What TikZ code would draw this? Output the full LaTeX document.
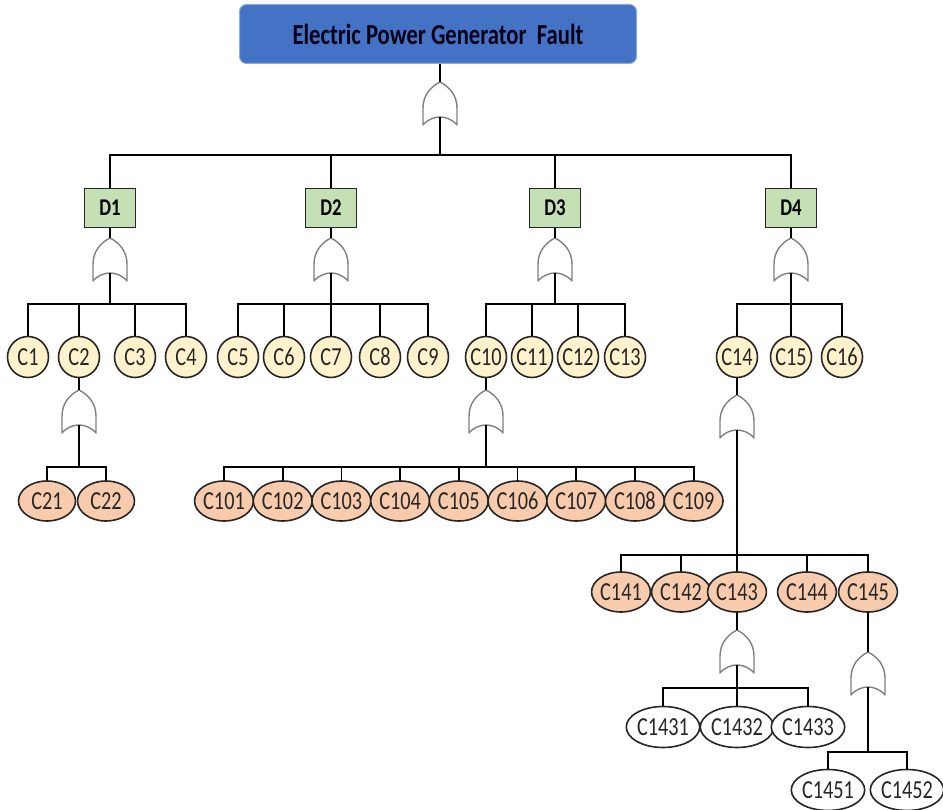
\documentclass[tikz,border=0pt]{standalone}
\usepackage{fontspec}
\setmainfont{Carlito}[FakeStretch=0.78]
\usetikzlibrary{shapes.geometric,calc}

\definecolor{TopBlue}{HTML}{4472C4}
\definecolor{TopEdge}{HTML}{8FAADC}
\definecolor{DGreen}{HTML}{C5E0B4}
\definecolor{CYellow}{HTML}{FFF2CC}
\definecolor{COrange}{HTML}{F8CBAD}
\definecolor{GateGrey}{HTML}{7F7F7F}
\definecolor{InkDark}{HTML}{262626}

\begin{document}
\begin{tikzpicture}[
        %Environment config
        x=1pt, y=-1pt,
        line width=1.8pt,
        %Environment styles
        TopCfg/.style={
            rectangle, rounded corners=7pt,
            fill=TopBlue, draw=TopEdge, line width=1pt,
            minimum width=397pt, minimum height=59pt,
            font=\bfseries\fontsize{29}{32}\selectfont, text=black!90!blue
        },
        DCfg/.style={
            rectangle, fill=DGreen, draw=InkDark, line width=1.3pt,
            minimum width=51pt, minimum height=39pt,
            font=\bfseries\fontsize{24}{26}\selectfont
        },
        BasicCfg/.style={
            circle, fill=CYellow, draw=InkDark, inner sep=0pt, line width=1.6pt,
            minimum size=41pt, text=InkDark,
            font=\fontsize{26}{28}\selectfont
        },
        SubCfg/.style={
            ellipse, fill=COrange, draw=InkDark, inner sep=0pt, line width=1.6pt,
            minimum width=57pt, minimum height=40pt, text=InkDark,
            font=\fontsize{26}{28}\selectfont
        },
        LeafCfg/.style={
            SubCfg, fill=white, minimum width=69pt, minimum height=41pt
        },
        GateLine/.style={draw=GateGrey, line width=1.4pt, line join=round},
        OrGate/.pic={
            \draw[GateLine] (0,0) .. controls (10,5) and (17,14) .. (17,26) -- (17,43)
                .. controls (12,37) and (5,35) .. (0,35)
                .. controls (-5,35) and (-12,37) .. (-17,43) -- (-17,26)
                .. controls (-17,14) and (-10,5) .. cycle;
            \coordinate (-tip) at (0,0);
            \coordinate (-in) at (0,35);
        }
    ]
    \useasboundingbox (0,0) rectangle (943,810);

    % top event
    \node[TopCfg] (top) at (438,34) {Electric Power Generator\ \ Fault};
    \pic (g0) at (440,82) {OrGate};
    \draw (g0-tip |- top.south) -- (g0-tip);
    \draw (g0-in) -- ++(0,38) coordinate (bus0);

    % D level
    \foreach \n/\x in {1/110,2/331,3/555,4/791}{
        \node[DCfg] (D\n) at (\x,208) {D\n};
        \pic (gD\n) at (\x,238) {OrGate};
        \draw (D\n.north) |- (bus0);
        \draw (D\n.south) -- (gD\n-tip);
        \draw (gD\n-in) -- ++(0,31) coordinate (busD\n);
    }

    % C level
    \foreach \n/\x/\d in {1/28/1,2/79/1,3/135/1,4/186/1,
            5/238/2,6/284/2,7/331/2,8/380/2,9/428/2,
            10/486/3,11/532/3,12/578/3,13/625/3,
            14/737/4,15/791/4,16/842/4}{
        \node[BasicCfg] (C\n) at (\x,357) {C\n};
        \draw (C\n.north) |- (busD\d);
    }

    % under C2
    \pic (gC2) at (79,390) {OrGate};
    \draw (C2.south) -- (gC2-tip);
    \draw (gC2-in) -- ++(0,42) coordinate (busC2);
    \foreach \n/\x in {21/47,22/106}{
        \node[SubCfg] (C\n) at (\x,501) {C\n};
        \draw (C\n.north) |- (busC2);
    }

    % under C10
    \pic (gC10) at (486,390) {OrGate};
    \draw (C10.south) -- (gC10-tip);
    \draw (gC10-in) -- ++(0,42) coordinate (busC10);
    \foreach \n [count=\i from 0] in {101,...,109}{
        \node[SubCfg] (C\n) at ({224+58.7*\i},501) {C\n};
        \draw (C\n.north) |- (busC10);
    }

    % under C14
    \pic (gC14) at (737,395) {OrGate};
    \draw (C14.south) -- (gC14-tip);
    \draw (gC14-in) -- ++(0,125) coordinate (busC14);
    \foreach \n/\x in {141/621,142/681,143/737,144/807,145/868}{
        \node[SubCfg] (C\n) at (\x,592) {C\n};
        \draw (C\n.north) |- (busC14);
    }

    % under C143
    \pic (gC143) at (737,630) {OrGate};
    \draw (C143.south) -- (gC143-tip);
    \draw (gC143-in) -- ++(0,23) coordinate (busC143);
    \foreach \n/\x in {1431/663,1432/737,1433/808}{
        \node[LeafCfg] (C\n) at (\x,727) {C\n};
        \draw (C\n.north) |- (busC143);
    }

    % under C145
    \pic (gC145) at (868,652) {OrGate};
    \draw (C145.south) -- (gC145-tip);
    \draw (gC145-in) -- ++(0,65) coordinate (busC145);
    \foreach \n/\x in {1451/828,1452/907}{
        \node[LeafCfg] (C\n) at (\x,790) {C\n};
        \draw (C\n.north) |- (busC145);
    }
\end{tikzpicture}
\end{document}
